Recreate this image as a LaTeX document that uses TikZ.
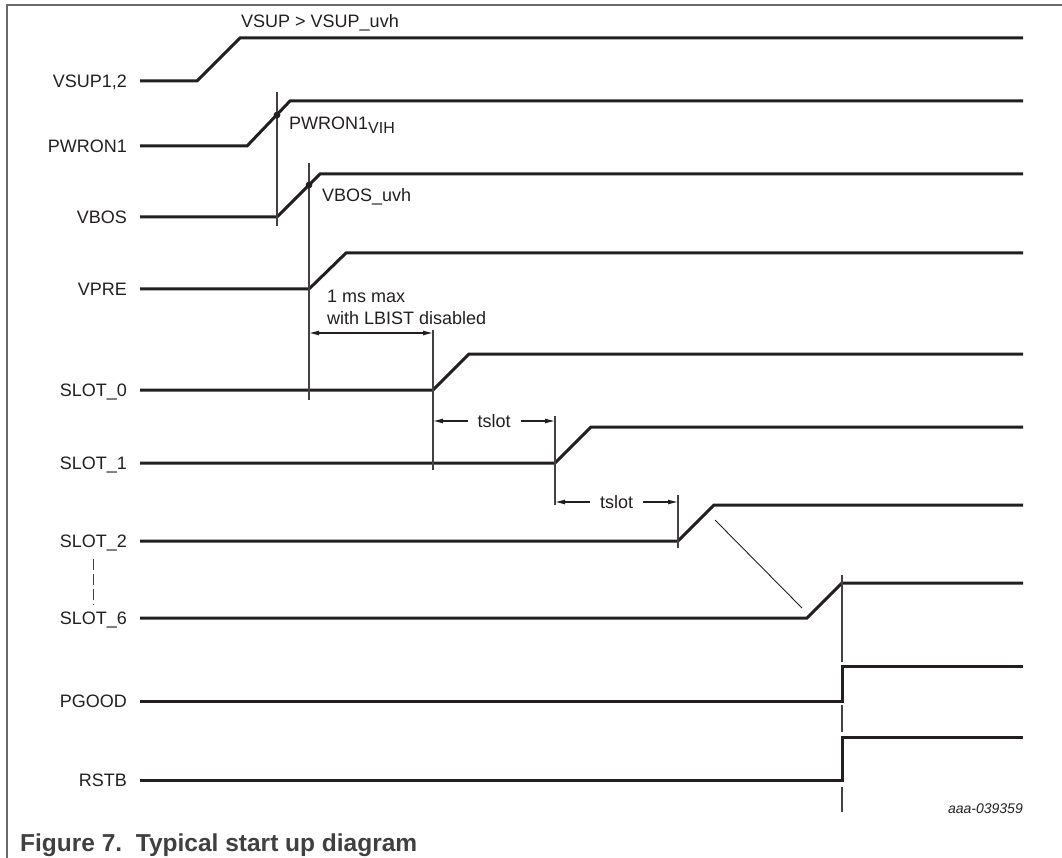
\documentclass[tikz,border=0pt]{standalone}
\usepackage{fontspec}
\setmainfont{Liberation Sans}
\usepackage{tikz}
\usetikzlibrary{arrows.meta}
\definecolor{ink}{HTML}{231F20}
\definecolor{rule}{HTML}{6A6A6A}
\definecolor{captext}{HTML}{404040}

\begin{document}
\begin{tikzpicture}[x=1pt,y=-1pt,>=Latex,
 every node/.style={font=\fontsize{18}{21}\selectfont,inner sep=0pt,text=ink},
 sig/.style={ink,line width=3pt,line join=miter},
 guide/.style={ink!85,line width=1.1pt},
 lbl/.style={anchor=east,text height=13pt,text depth=0pt},
 dim/.style={{Latex[length=10pt,width=5pt]}-{Latex[length=10pt,width=5pt]},
             ink,line width=1.1pt}]
    \useasboundingbox (0,0) rectangle (1062,858);
    \draw[rule,line width=1.8pt] (7,858) -- (7,5) -- (1062,5);

    % signal names
    \node[lbl] (vsup) at (127,81) {VSUP1,2};
    \node[lbl] (pwron) at (127,146) {PWRON1};
    \node[lbl] (vbos) at (127,217) {VBOS};
    \node[lbl] (vpre) at (127,289) {VPRE};
    \node[lbl] (slot0) at (127,390) {SLOT\_0};
    \node[lbl] (slot1) at (127,463) {SLOT\_1};
    \node[lbl] (slot2) at (127,541) {SLOT\_2};
    \node[lbl] (slot6) at (127,618) {SLOT\_6};
    \node[lbl] (pgood) at (127,701) {PGOOD};
    \node[lbl] (rstb) at (127,780) {RSTB};
    \draw[guide,dash pattern=on 11pt off 4pt,shorten <=11pt,shorten >=7pt]
        (slot2.south) -- (slot6.north);

    % waveforms
    \draw[sig] ([xshift=13pt]vsup.east) -- (197,81) -- (240,38) -- (1023,38);
    \draw[sig] ([xshift=13pt]pwron.east) -- (247,146) -- (290,101) -- (1023,101);
    \draw[sig] ([xshift=13pt]vbos.east) -- (277,217) -- (320,174) -- (1023,174);
    \draw[sig] ([xshift=13pt]vpre.east) -- (309,289) -- (346,253) -- (1023,253);
    \draw[sig] ([xshift=13pt]slot0.east) -- (433,390) -- (469,354) -- (1023,354);
    \draw[sig] ([xshift=13pt]slot1.east) -- (555,463) -- (591,427) -- (1023,427);
    \draw[sig] ([xshift=13pt]slot2.east) -- (678,541) -- (714,505) -- (1023,505);
    \draw[sig] ([xshift=13pt]slot6.east) -- (807,618) -- (842,583) -- (1023,583);
    \draw[sig] ([xshift=13pt]pgood.east) -- (842,701) -- (842,666) -- (1023,666);
    \draw[sig] ([xshift=13pt]rstb.east) -- (842,780) -- (842,737) -- (1023,737);

    % thresholds and timing marks
    \node[anchor=base west] (vsuplim) at (241,28) {VSUP > VSUP\_uvh};
    \draw[guide] (277,92) -- (277,226);
    \draw[guide] (309,163) -- (309,400);
    \fill[ink] (277,115) circle (3.4pt);
    \fill[ink] (309,185) circle (3.4pt);
    \node[anchor=base west] (pwronvih) at (289,130)
        {PWRON1\raisebox{-4pt}{\fontsize{16}{16}\selectfont VIH}};
    \node[anchor=base west] (vbosuvh) at (322,202) {VBOS\_uvh};
    \draw[guide] (433,330) -- (433,470);
    \draw[guide] (555,416) -- (555,505);
    \draw[guide] (678,495) -- (678,548);
    \draw[guide] (842,575) -- (842,662);
    \draw[guide] (842,705) -- (842,732);
    \draw[guide] (842,787) -- (842,812);
    \draw[ink,line width=0.9pt] (715,520) -- (802,608);

    \node[anchor=base west] (ms1) at (327,303) {1 ms max};
    \node[anchor=base west] (ms2) at (327,325) {with LBIST disabled};
    \coordinate (lb0) at (309,333);
    \coordinate (lb1) at (433,333);
    \draw[dim] (lb0) -- (lb1);
    \coordinate (ts0) at (433,421);
    \coordinate (ts1) at (555,421);
    \draw[dim] (ts0) -- node[fill=white,inner xsep=10pt,text height=13pt,text depth=0pt] (tslot1) {tslot} (ts1);
    \coordinate (ts2) at (555,502);
    \coordinate (ts3) at (678,502);
    \draw[dim] (ts2) -- node[fill=white,inner xsep=10pt,text height=13pt,text depth=0pt] (tslot2) {tslot} (ts3);

    \node[anchor=base east,font=\fontsize{14}{16}\selectfont\itshape] (docid) at (1023,813) {aaa-039359};
    \node[anchor=base west,font=\fontsize{24.5}{28}\selectfont\bfseries,text=captext] (caption)
        at (20,851) {Figure 7.\ \ Typical start up diagram};
\end{tikzpicture}
\end{document}
